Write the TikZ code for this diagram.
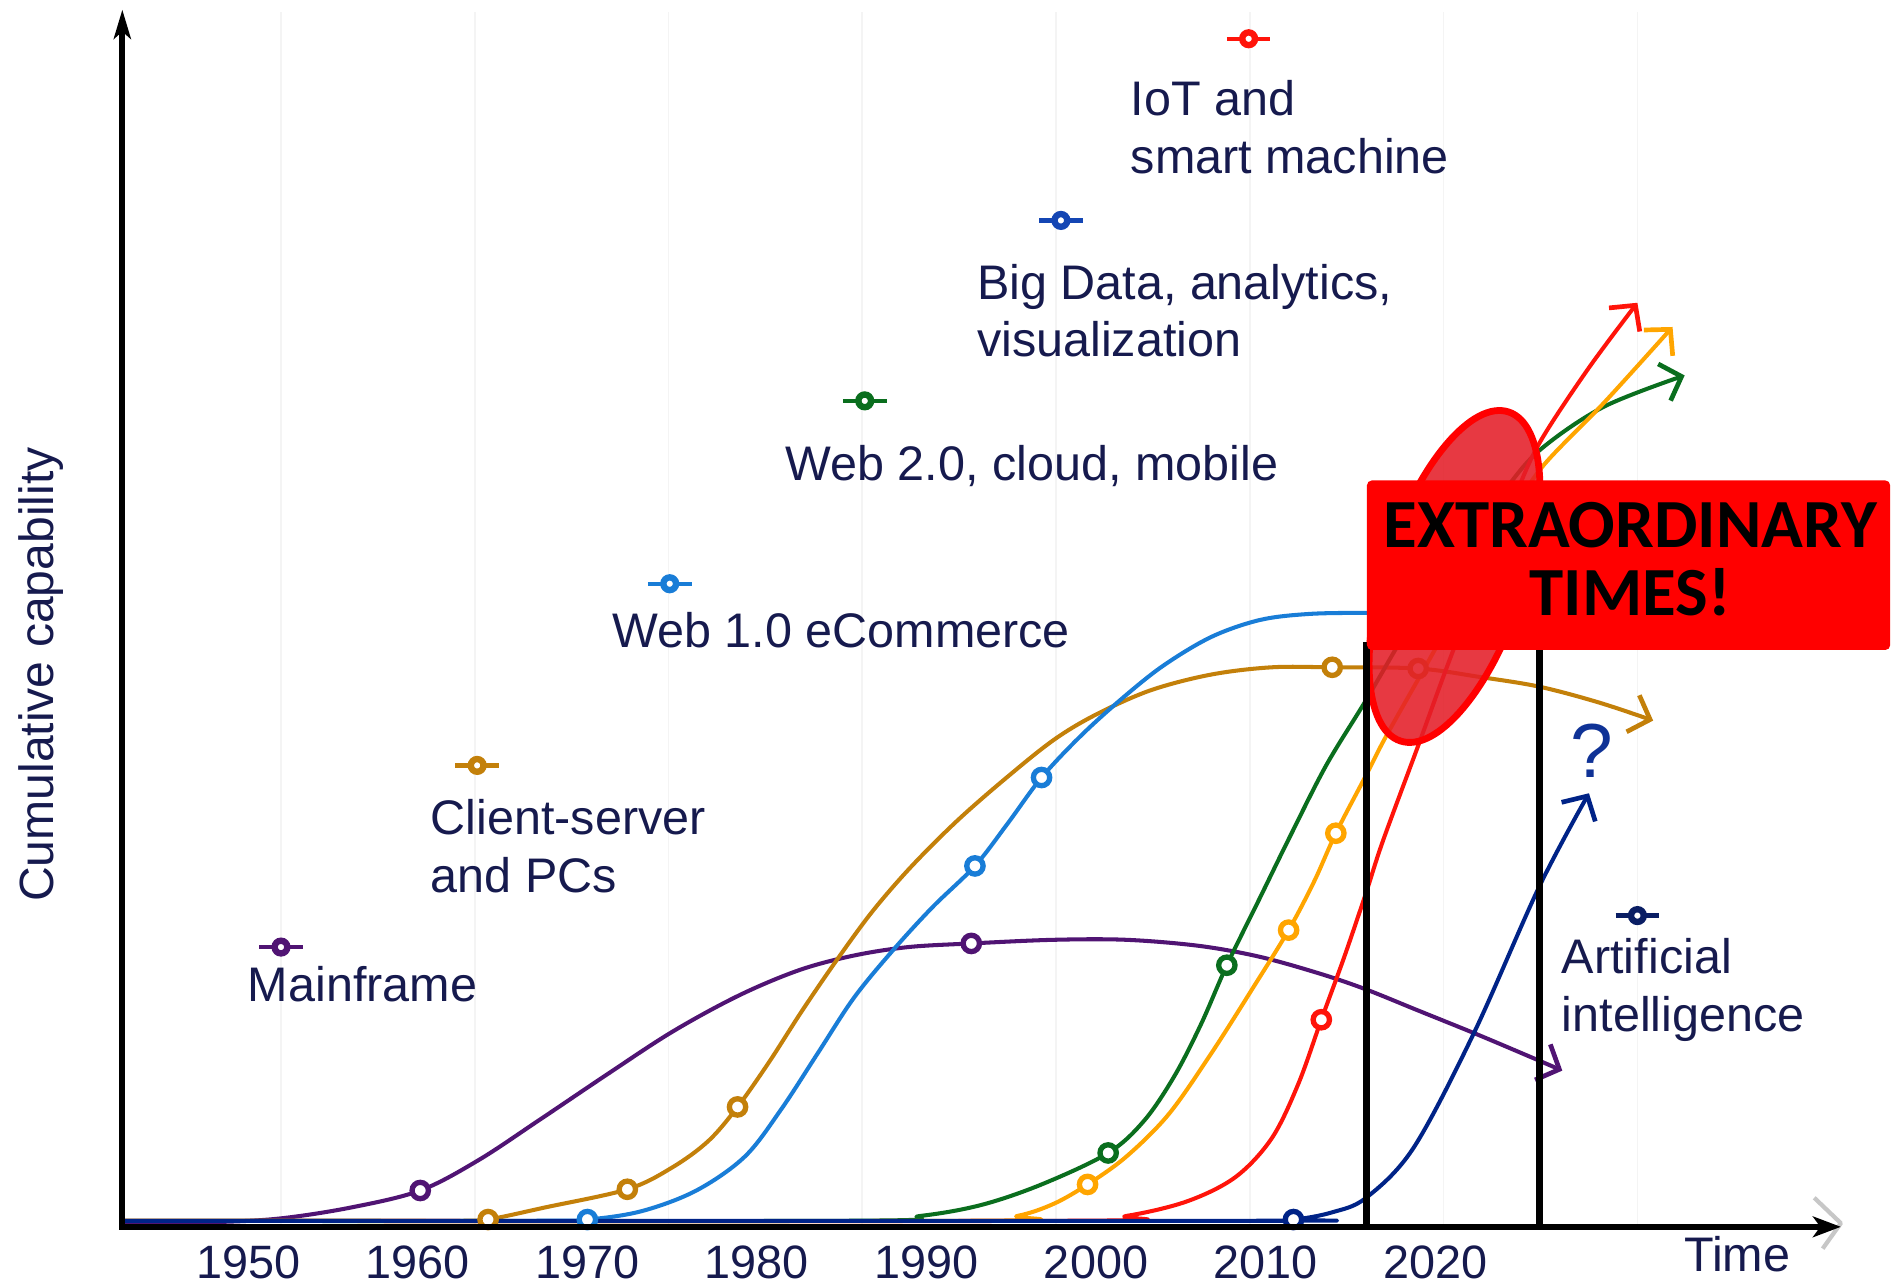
\documentclass[tikz,border=0pt]{standalone}
\usepackage{fontspec}
\setmainfont{Liberation Sans}
\newfontfamily\boxfont{Carlito}
\usetikzlibrary{arrows.meta}

\definecolor{labelnavy}{RGB}{22,26,78}
\definecolor{gridc}{RGB}{244,244,244}
\definecolor{mfpurple}{RGB}{80,20,115}
\definecolor{csbrown}{RGB}{195,128,10}
\definecolor{wonblue}{RGB}{25,125,215}
\definecolor{wtwgreen}{RGB}{10,110,30}
\definecolor{bdblue}{RGB}{20,70,180}
\definecolor{bdorange}{RGB}{255,165,0}
\definecolor{iotred}{RGB}{255,20,10}
\definecolor{ainavy}{RGB}{0,35,135}
\definecolor{aimark}{RGB}{10,30,100}
\definecolor{qnavy}{RGB}{15,50,150}
\definecolor{ovalfill}{RGB}{228,30,40}
\definecolor{boxred}{RGB}{255,0,0}

\begin{document}
\begin{tikzpicture}[x=0.1mm, y=-0.1mm,
  curve/.style={line width=0.95pt, line join=round, line cap=round},
  barb/.style={-{Straight Barb[length=1.5mm, width=3.2mm, line width=1.1pt]}},
  mk/.style={circle, draw=#1, fill=white, line width=1.25pt, inner sep=0pt, minimum size=1.35mm},
  lbl/.style={text=labelnavy, font=\fontsize{11.4}{13.7}\selectfont, inner sep=0pt, anchor=base west},
  yr/.style={text=labelnavy, font=\fontsize{11}{13}\selectfont, inner sep=0pt, anchor=base},
  boxtxt/.style={text=black, font=\boxfont\bfseries\fontsize{16.2}{18}\selectfont, inner sep=0pt, anchor=base},
  legendmark/.pic={
    \draw[line width=1pt] (-18,0) -- (18,0);
    \node (-c) [circle, draw, fill=white, line width=1.5pt, inner sep=0pt, minimum size=1.05mm] {};
  },
]
\useasboundingbox (0,0) rectangle (1568,1062);

% faint vertical grid
\foreach \gx in {232,392,552,712,872,1032,1192,1352}
  \draw[gridc, line width=0.4pt] (\gx,10) -- (\gx,1013);

% axis corner and ends
\coordinate (O) at (101,1013);
\coordinate (ytop) at (101,8);
\coordinate (xend) at (1520,1013);

% faint chevron behind the time arrow
\draw[black!22, line width=1pt, line join=round] (1498,989) -- (1520,1010) -- (1505,1031);

% ---- capability curves ----
% Mainframe
\draw[curve, mfpurple, barb] plot[smooth, tension=0.55] coordinates {
  (101,1010) (180,1009) (232,1006) (290,997) (347,983) (395,958) (445,925)
  (500,888) (555,852) (610,822) (660,801) (705,789) (750,782) (802,779)
  (870,776) (930,776) (990,781) (1040,790) (1090,804) (1128,817) (1170,834)
  (1217,853) (1255,869) (1290,884)};
% Client-server
\draw[curve, csbrown, barb] plot[smooth, tension=0.55] coordinates {
  (101,1008) (380,1008) (403,1007) (450,997) (518,982) (555,964) (585,942)
  (609,914) (635,877) (662,835) (690,794) (720,753) (752,716) (790,678)
  (830,643) (870,611) (905,590) (950,570) (1000,557) (1050,551) (1100,551)
  (1171,552) (1222,559) (1271,567) (1320,580) (1365,595)};
% Web 1.0
\draw[curve, wonblue] plot[smooth, tension=0.55] coordinates {
  (101,1008) (440,1008) (485,1007) (530,1000) (575,983) (615,955) (645,916)
  (675,870) (705,824) (737,785) (770,749) (805,715) (832,680) (860,642)
  (892,608) (925,578) (960,550) (1000,526) (1040,512) (1080,507) (1128,506)
  (1200,506)};
% Web 2.0
\draw[curve, wtwgreen, barb] plot[smooth, tension=0.55] coordinates {
  (101,1008) (700,1008) (760,1004) (810,995) (860,978) (915,952) (945,925)
  (970,888) (992,845) (1013,797) (1040,742) (1065,691) (1095,632) (1128,578)
  (1165,515) (1205,455) (1240,408) (1271,372) (1324,336) (1391,310)};
% Big Data
\draw[curve, bdorange, barb] plot[smooth, tension=0.55] coordinates {
  (101,1008) (800,1008) (840,1004) (870,994) (898,978) (930,955) (965,920)
  (1000,870) (1035,815) (1064,768) (1085,728) (1103,688) (1128,640)
  (1145,607) (1180,545) (1215,482) (1245,430) (1273,386) (1324,333) (1381,270)};
% IoT
\draw[curve, iotred, barb] plot[smooth, tension=0.55] coordinates {
  (101,1008) (880,1008) (930,1004) (980,992) (1020,972) (1050,940) (1072,895)
  (1091,842) (1110,790) (1128,737) (1142,694) (1172,613) (1195,550)
  (1225,472) (1250,412) (1271,366) (1311,305) (1352,250)};
% Artificial intelligence
\draw[curve, ainavy, barb] plot[smooth, tension=0.55] coordinates {
  (101,1008) (1030,1008) (1068,1007) (1100,1001) (1128,989) (1167,948)
  (1217,853) (1271,732) (1312,655)};

% ---- markers on the curves ----
\node (m1) [mk=mfpurple] at (347,983) {};
\node (m2) [mk=mfpurple] at (802,779) {};
\node (m3) [mk=csbrown] at (403,1007) {};
\node (m4) [mk=csbrown] at (518,982) {};
\node (m5) [mk=csbrown] at (609,914) {};
\node (m6) [mk=csbrown] at (1100,551) {};
\node (m7) [mk=csbrown] at (1171,552) {};
\node (m8) [mk=wonblue] at (485,1007) {};
\node (m9) [mk=wonblue] at (805,715) {};
\node (m10) [mk=wonblue] at (860,642) {};
\node (m11) [mk=wtwgreen] at (915,952) {};
\node (m12) [mk=wtwgreen] at (1013,797) {};
\node (m13) [mk=bdorange] at (898,978) {};
\node (m14) [mk=bdorange] at (1064,768) {};
\node (m15) [mk=bdorange] at (1103,688) {};
\node (m16) [mk=iotred] at (1091,842) {};
\node (m17) [mk=ainavy] at (1068,1007) {};

% ---- axes ----
\draw[line width=1.4pt, line join=miter,
  {Stealth[length=2.4mm, width=1.4mm, inset=0.6mm]}-{Stealth[length=2.3mm, width=1.7mm, inset=0.6mm]}]
  (ytop) -- (O) -- (xend);

\node (ylab) [text=labelnavy, font=\fontsize{11.3}{13}\selectfont, inner sep=0pt, anchor=base, rotate=90] at (44,557) {Cumulative capability};

\foreach \yv [count=\i from 0] in {1950,1960,1970,1980,1990,2000,2010,2020}
  \node (yr\yv) [yr] at ({205+140*\i},1056) {\yv};
\node (tlab) [lbl] at (1390,1050) {Time};

% ---- legend entries ----
\pic (lgMF) [color=mfpurple] at (232,782) {legendmark};
\pic (lgCS) [color=csbrown] at (394,632) {legendmark};
\pic (lgWA) [color=wonblue] at (553,482) {legendmark};
\pic (lgWB) [color=wtwgreen] at (714,331) {legendmark};
\pic (lgBD) [color=bdblue] at (876,182) {legendmark};
\pic (lgIT) [color=iotred] at (1031,32) {legendmark};
\pic (lgAI) [color=aimark] at (1352,756) {legendmark};

\node (tMF) [lbl] at (204,827) {Mainframe};
\node (tCSa) [lbl] at (355,689) {Client-server};
\node (tCSb) [lbl] at (355,737) {and PCs};
\node (tWA) [lbl] at (505,535) {Web 1.0 eCommerce};
\node (tWB) [lbl] at (648,397) {Web 2.0, cloud, mobile};
\node (tBDa) [lbl] at (806,247) {Big Data, analytics,};
\node (tBDb) [lbl] at (806,294) {visualization};
\node (tITa) [lbl] at (933,95) {IoT and};
\node (tITb) [lbl] at (933,143) {smart machine};
\node (tAIa) [lbl] at (1289,804) {Artificial};
\node (tAIb) [lbl] at (1289,852) {intelligence};

\node (qmark) [text=qnavy, font=\fontsize{18}{20}\selectfont, inner sep=0pt, anchor=base] at (1314,642) {?};

% ---- highlighted era ----
\draw[fill=ovalfill, fill opacity=0.88, draw=boxred, line width=1.6pt, shift={(1201,476)}, rotate=71.8]
  (0,0) ellipse [x radius=143, y radius=57.5];

\coordinate (bandL) at (1128,530);
\coordinate (bandR) at (1271,530);
\draw[line width=1.6pt] (bandL) -- (1128,1013);
\draw[line width=1.6pt] (bandR) -- (1271,1013);

\node (banner) [fill=boxred, rounded corners=0.4mm, inner sep=0pt, anchor=north west,
  minimum width=43.2mm, minimum height=14mm] at (1128,396) {};
\node (ex1) [boxtxt] at (1346,452) {EXTRAORDINARY};
\node (ex2) [boxtxt] at (1346,508) {TIMES!};
\end{tikzpicture}
\end{document}
